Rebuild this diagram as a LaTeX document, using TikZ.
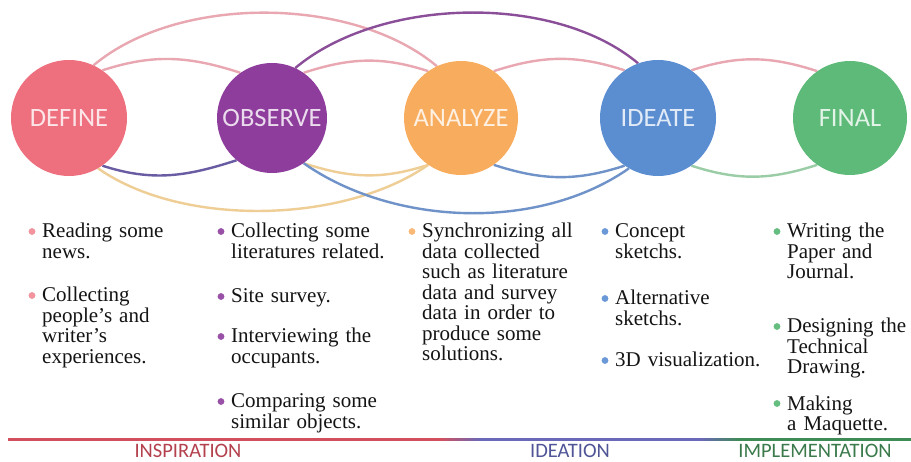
\documentclass[tikz,border=0pt]{standalone}
\usepackage{fontspec}
\setmainfont{Liberation Serif}
\newfontfamily\labelfont{Carlito}
\usetikzlibrary{backgrounds}
\definecolor{cDef}{HTML}{EE6F7D}
\definecolor{cObs}{HTML}{8E3D9D}
\definecolor{cAna}{HTML}{F8AD5E}
\definecolor{cIde}{HTML}{5B8DD1}
\definecolor{cFin}{HTML}{5DBA79}
\definecolor{aPink}{HTML}{E9A7B2}
\definecolor{aPurp}{HTML}{8B4F99}
\definecolor{aVio}{HTML}{6A5CA3}
\definecolor{aYel}{HTML}{EFCE96}
\definecolor{aBlue}{HTML}{6F92C9}
\definecolor{aGreen}{HTML}{9ACDA6}
\definecolor{bRed}{HTML}{D2505E}
\definecolor{bBlue}{HTML}{6A68B8}
\definecolor{bGreen}{HTML}{3E8C55}
\definecolor{tRed}{HTML}{B4414E}
\definecolor{tBlue}{HTML}{4F5596}
\definecolor{tGreen}{HTML}{3B7A4B}

\tikzset{
  phase/.style={circle, fill=#1, text=white!82!#1, minimum size=114pt, inner sep=0pt,
    font=\labelfont\fontsize{26.5}{26.5}\selectfont},
  link/.style={draw=#1, line width=2.4pt},
  entry/.style={anchor=base west, align=left, text width=200pt, inner sep=0pt,
    text=black!92, font=\fontsize{21}{20.5}\selectfont},
  stage/.style={anchor=base, inner sep=0pt, text=#1, font=\labelfont\fontsize{20.5}{20.5}\selectfont}
}

\begin{document}
\begin{tikzpicture}[x=1pt, y=1pt]
  \useasboundingbox (0,0) rectangle (911,-462);

  % the five phases
  \node[phase=cDef, minimum size=116pt] (def) at (69,-118) {DEFINE};
  \node[phase=cObs, minimum size=110pt] (obs) at (272,-118) {OBSERVE};
  \node[phase=cAna] (ana) at (461,-118) {ANALYZE};
  \node[phase=cIde, minimum size=116pt] (ide) at (658,-118) {IDEATE};
  \node[phase=cFin] (fin) at (850,-118) {FINAL};

  \begin{scope}[on background layer]
    \fill[white] (0,0) rectangle (911,-462);
    % neighbours
    \draw[link=aPink] (def.55) to[out=18, in=162] (obs.125);
    \draw[link=aVio] (def.-55) to[out=-18, in=-162] (obs.-130);
    \draw[link=aPink] (obs.55) to[out=18, in=162] (ana.125);
    \draw[link=aYel] (obs.-55) to[out=-18, in=-162] (ana.-125);
    \draw[link=aPink] (ana.55) to[out=18, in=162] (ide.125);
    \draw[link=aBlue] (ana.-55) to[out=-18, in=-162] (ide.-125);
    \draw[link=aPink] (ide.55) to[out=18, in=162] (fin.125);
    \draw[link=aGreen] (ide.-55) to[out=-18, in=-162] (fin.-125);
    % long jumps
    \draw[link=aPink] (def.65) .. controls +(40:110) and +(140:110) .. (ana.115);
    \draw[link=aYel] (def.-60) .. controls +(-35:103) and +(-145:103) .. (ana.-125);
    \draw[link=aPurp] (obs.65) .. controls +(40:110) and +(140:110) .. (ide.110);
    \draw[link=aBlue] (obs.-55) .. controls +(-35:110) and +(-145:110) .. (ide.-120);
  \end{scope}

  % activities under each phase
  \foreach \x/\y/\c/\n/\t in {
      42/238/cDef!75/d1/{Reading some\\news.},
      42/302/cDef!75/d2/{Collecting\\people's and\\writer's\\experiences.},
      231/238/cObs!90/o1/{Collecting some\\literatures related.},
      231/303/cObs!90/o2/{Site survey.},
      231/343/cObs!90/o3/{Interviewing the\\occupants.},
      231/408/cObs!90/o4/{Comparing some\\similar objects.},
      422/238/cAna!85/a1/{Synchronizing all\\data collected\\such as literature\\data and survey\\data in order to\\produce some\\solutions.},
      615/238/cIde!90/i1/{Concept\\sketchs.},
      615/305/cIde!90/i2/{Alternative\\sketchs.},
      615/367/cIde!90/i3/{3D visualization.},
      787/238/cFin!95/f1/{Writing the\\Paper and\\Journal.},
      787/333/cFin!95/f2/{Designing the\\Technical\\Drawing.},
      787/410/cFin!95/f3/{Making\\a Maquette.}}{
    \node[entry] (\n) at (\x,-\y) {\t};
    \fill[\c] ([xshift=-10pt, yshift=6.5pt]\n.base west) circle (3.4pt);
  }

  % stage bar, blended where one stage meets the next
  \fill[bRed] (8,-438.5) rectangle (440,-441.5);
  \fill[bBlue] (480,-438.5) rectangle (700,-441.5);
  \fill[bGreen] (740,-438.5) rectangle (911,-441.5);
  \foreach \i in {0,...,39}{
    \pgfmathsetmacro\p{100-2.5*\i}
    \fill[bRed!\p!bBlue] (440+\i,-438.5) rectangle (441.2+\i,-441.5);
    \fill[bBlue!\p!bGreen] (700+\i,-438.5) rectangle (701.2+\i,-441.5);
  }
  \node[stage=tRed] (insp) at (188,-457) {INSPIRATION};
  \node[stage=tBlue] (idea) at (570,-457) {IDEATION};
  \node[stage=tGreen] (impl) at (815,-457) {IMPLEMENTATION};
\end{tikzpicture}
\end{document}
